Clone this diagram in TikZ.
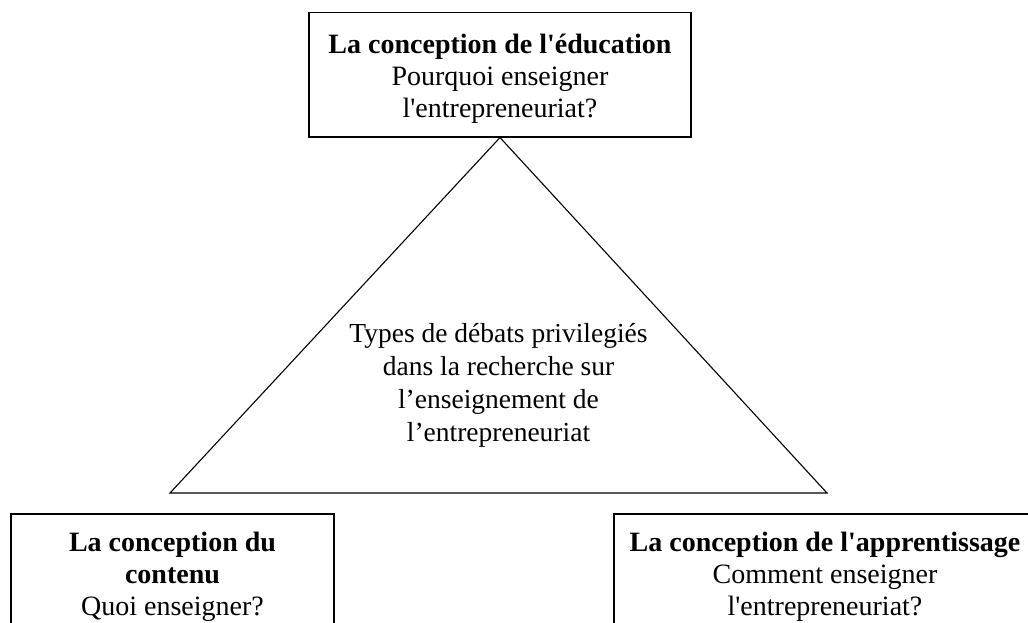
\documentclass[tikz,border=0pt]{standalone}
\usepackage{fontspec}
\setmainfont{Liberation Serif}
\newcommand{\apos}{\textquotesingle}
\begin{document}
\begin{tikzpicture}[x=1pt,y=1pt,
  boxstyle/.style={draw=black, line width=1.1pt, rectangle, inner sep=0pt},
  txt/.style={anchor=base, inner sep=0pt, font=\fontsize{28}{32}\selectfont},
  tri/.style={draw=black, line width=1.1pt, line join=miter}]
\clip (0,0) rectangle (1028,-623);
% top box
\node[boxstyle, minimum width=382pt, minimum height=124.3pt] (edu) at (500,-74.85) {};
\node[txt] (edutxt) at (500,-54) {\begin{tabular}[t]{@{}c@{}}\textbf{La conception de l\apos éducation}\\ Pourquoi enseigner\\ l\apos entrepreneuriat?\end{tabular}};
% triangle
\coordinate (bl) at (170,-493);
\coordinate (br) at (827,-493);
\draw[tri] (edu.south) -- (br) -- (bl) -- cycle;
\node[txt, font=\fontsize{27.5}{33}\selectfont] (center) at (498.5,-342) {\begin{tabular}[t]{@{}c@{}}Types de débats privilegiés\\ dans la recherche sur\\ l’enseignement de\\ l’entrepreneuriat\end{tabular}};
% bottom left box
\node[boxstyle, minimum width=323pt, minimum height=160pt] (cont) at (172.5,-594) {};
\node[txt] (conttxt) at (172.5,-551) {\begin{tabular}[t]{@{}c@{}}\textbf{La conception du}\\ \textbf{contenu}\\ Quoi enseigner?\end{tabular}};
% bottom right box
\node[boxstyle, minimum width=422pt, minimum height=160pt] (app) at (825,-594) {};
\node[txt] (apptxt) at (825,-551) {\begin{tabular}[t]{@{}c@{}}\textbf{La conception de l\apos apprentissage}\\ Comment enseigner\\ l\apos entrepreneuriat?\end{tabular}};
\end{tikzpicture}
\end{document}
